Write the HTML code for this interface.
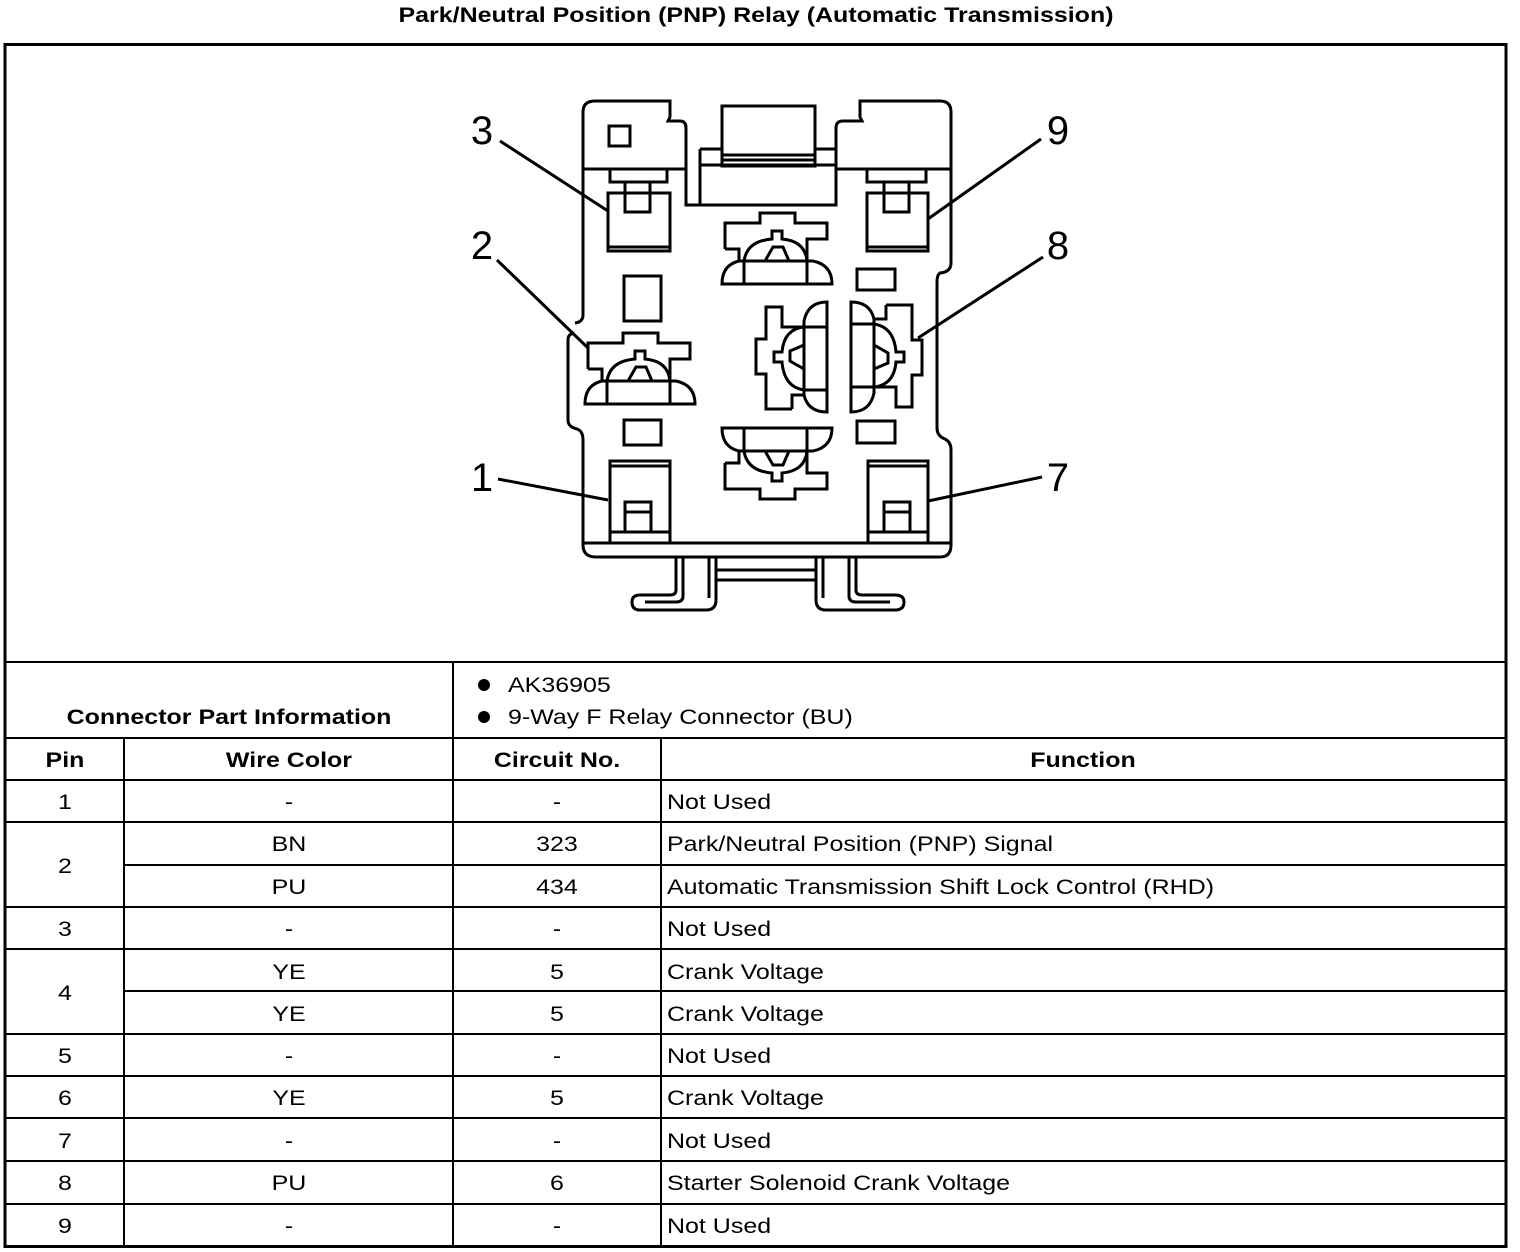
<!DOCTYPE html>
<html><head><meta charset="utf-8"><style>
html,body{margin:0;padding:0;background:#fff;}
svg{display:block}
text{font-family:"Liberation Sans",Arial,sans-serif;fill:#000}
</style></head><body>
<svg width="1520" height="1252" viewBox="0 0 1520 1252" xmlns="http://www.w3.org/2000/svg">
<defs>
<g id="term" fill="none" stroke="#000" stroke-width="3">
  <path d="M-52,-2 V-28 H-17 V-38 H18 V-28 H50 V-12 H30 V10"/>
  <path d="M-52,-2 H-38 V10"/>
  <path d="M-55,33 H55 Q55,14 36,10 H-38 Q-55,14 -55,33 Z"/>
  <path d="M-33,10 V33 M30,10 V33"/>
  <path d="M-33,10 Q-30,-10 -5,-12 V-20 H5 V-12 Q28,-10 30,10"/>
  <path d="M-12,10 L-4,-4 H6 L12,10"/>
</g>
</defs>
<g transform="translate(756,0) scale(1.19,1) translate(-756,0)">
<text x="756" y="22" font-size="21" font-weight="bold" text-anchor="middle">Park/Neutral Position (PNP) Relay (Automatic Transmission)</text>
</g>
<rect x="5" y="44.5" width="1501" height="1202" fill="none" stroke="#000" stroke-width="3"/>
<g stroke="#000" stroke-width="2" fill="none">
<line x1="5" y1="662" x2="1506" y2="662"/>
<line x1="5" y1="738" x2="1506" y2="738"/>
<line x1="453" y1="662" x2="453" y2="1247"/>
<line x1="124" y1="738" x2="124" y2="1247"/>
<line x1="661" y1="738" x2="661" y2="1247"/>
<line x1="5" y1="780" x2="1506" y2="780"/>
<line x1="5" y1="822" x2="1506" y2="822"/>
<line x1="124" y1="865" x2="1506" y2="865"/>
<line x1="5" y1="907" x2="1506" y2="907"/>
<line x1="5" y1="949" x2="1506" y2="949"/>
<line x1="124" y1="991" x2="1506" y2="991"/>
<line x1="5" y1="1034" x2="1506" y2="1034"/>
<line x1="5" y1="1076" x2="1506" y2="1076"/>
<line x1="5" y1="1118" x2="1506" y2="1118"/>
<line x1="5" y1="1161" x2="1506" y2="1161"/>
<line x1="5" y1="1204" x2="1506" y2="1204"/>
</g>
<g font-size="21">
<g transform="translate(229,0) scale(1.19,1) translate(-229,0)">
<text x="229" y="724" font-weight="bold" text-anchor="middle">Connector Part Information</text>
</g>
<circle cx="484" cy="685" r="6"/><circle cx="484" cy="717" r="6"/>
<g transform="translate(508,0) scale(1.19,1) translate(-508,0)">
<text x="508" y="692">AK36905</text>
<text x="508" y="724">9-Way F Relay Connector (BU)</text>
</g>
<g font-weight="bold" text-anchor="middle">
<g transform="translate(65,0) scale(1.19,1) translate(-65,0)"><text x="65" y="767">Pin</text></g>
<g transform="translate(289,0) scale(1.19,1) translate(-289,0)"><text x="289" y="767">Wire Color</text></g>
<g transform="translate(557,0) scale(1.19,1) translate(-557,0)"><text x="557" y="767">Circuit No.</text></g>
<g transform="translate(1083,0) scale(1.19,1) translate(-1083,0)"><text x="1083" y="767">Function</text></g>
</g>
<g text-anchor="middle">
<g transform="translate(65,0) scale(1.19,1) translate(-65,0)">
<text x="65" y="809">1</text><text x="65" y="873">2</text><text x="65" y="936">3</text><text x="65" y="1000">4</text>
<text x="65" y="1063">5</text><text x="65" y="1105">6</text><text x="65" y="1148">7</text><text x="65" y="1190">8</text><text x="65" y="1233">9</text>
</g>
<g transform="translate(289,0) scale(1.19,1) translate(-289,0)">
<text x="289" y="809">-</text><text x="289" y="851">BN</text><text x="289" y="894">PU</text><text x="289" y="936">-</text>
<text x="289" y="979">YE</text><text x="289" y="1021">YE</text><text x="289" y="1063">-</text><text x="289" y="1105">YE</text>
<text x="289" y="1148">-</text><text x="289" y="1190">PU</text><text x="289" y="1233">-</text>
</g>
<g transform="translate(557,0) scale(1.19,1) translate(-557,0)">
<text x="557" y="809">-</text><text x="557" y="851">323</text><text x="557" y="894">434</text><text x="557" y="936">-</text>
<text x="557" y="979">5</text><text x="557" y="1021">5</text><text x="557" y="1063">-</text><text x="557" y="1105">5</text>
<text x="557" y="1148">-</text><text x="557" y="1190">6</text><text x="557" y="1233">-</text>
</g>
</g>
<g transform="translate(667,0) scale(1.19,1) translate(-667,0)">
<text x="667" y="809">Not Used</text>
<text x="667" y="851">Park/Neutral Position (PNP) Signal</text>
<text x="667" y="894">Automatic Transmission Shift Lock Control (RHD)</text>
<text x="667" y="936">Not Used</text>
<text x="667" y="979">Crank Voltage</text>
<text x="667" y="1021">Crank Voltage</text>
<text x="667" y="1063">Not Used</text>
<text x="667" y="1105">Crank Voltage</text>
<text x="667" y="1148">Not Used</text>
<text x="667" y="1190">Starter Solenoid Crank Voltage</text>
<text x="667" y="1233">Not Used</text>
</g>
</g>

<!-- connector drawing -->
<g fill="none" stroke="#000" stroke-width="3">
<path d="M583,315 V112 Q583,101 595,101 H670 V117 L668,121 H680 Q686,121 686,128 V205 H836 V128 Q836,121 843,121 H862 L860,117 V101 H940 Q951,101 951,112 V263 Q951,272 940,273 Q937,275 937,282 V428 Q937,436 945,439 Q951,442 951,450 V545 Q951,557 940,557 H596 Q583,557 583,545 V440 Q583,431 577,429 Q568,427 568,420 V340 Q568,334 574,333"/>
<path d="M583,315 Q583,322 575,323"/>
<line x1="583" y1="169" x2="686" y2="169"/>
<line x1="836" y1="169" x2="951" y2="169"/>
<line x1="583" y1="543" x2="951" y2="543"/>
<rect x="722" y="106" width="93" height="54"/>
<path d="M700,149 H722 V166 H815 V149 H836 M700,149 V205 M722,166 V160 M700,165 H836"/>
<line x1="722" y1="155" x2="815" y2="155"/>
<rect x="609" y="126" width="21" height="20"/>
<path d="M610,170 V182 H667 V170"/><rect x="625" y="182" width="25" height="30"/>
<rect x="608" y="193" width="62" height="58"/><line x1="608" y1="247" x2="670" y2="247"/>
<path d="M867,170 V182 H926 V170"/><rect x="884" y="182" width="25" height="30"/>
<rect x="867" y="193" width="61" height="58"/><line x1="867" y1="247" x2="928" y2="247"/>
<rect x="610" y="461" width="60" height="82"/><line x1="610" y1="466" x2="670" y2="466"/>
<rect x="625" y="502" width="26" height="30"/><path d="M611,532 H669 M625,512 H651"/>
<rect x="868" y="461" width="60" height="82"/><line x1="868" y1="466" x2="928" y2="466"/>
<rect x="884" y="502" width="26" height="30"/><path d="M869,532 H927 M884,512 H910"/>
<rect x="624" y="276" width="37" height="45"/>
<rect x="624" y="420" width="37" height="25"/>
<rect x="857" y="269" width="38" height="21"/>
<rect x="857" y="421" width="38" height="22"/>
<use href="#term" transform="translate(640,371)"/>
<use href="#term" transform="translate(777,251)"/>
<use href="#term" transform="translate(777,461) scale(1,-1)"/>
<use href="#term" transform="translate(794,357) rotate(-90)"/>
<use href="#term" transform="translate(884,357) rotate(90)"/>
<path d="M676,558 V590 Q676,595 670,595 H640 Q632,595 632,602 Q632,610 640,610 H706 Q716,610 716,600 V558"/>
<path d="M683,558 V596 Q683,602 676,602 H645 M709,558 V598"/>
<path d="M856,558 V590 Q856,595 862,595 H895 Q904,595 904,602 Q904,610 895,610 H826 Q816,610 816,600 V558"/>
<path d="M849,558 V596 Q849,602 856,602 H890 M823,558 V598"/>
<line x1="716" y1="580" x2="816" y2="580"/>
<line x1="716" y1="570" x2="816" y2="570"/>
<line x1="500" y1="141" x2="608" y2="211"/>
<line x1="497" y1="260" x2="588" y2="348"/>
<line x1="498" y1="479" x2="608" y2="500"/>
<line x1="1041" y1="139" x2="928" y2="219"/>
<line x1="1043" y1="257" x2="918" y2="338"/>
<line x1="1042" y1="477" x2="928" y2="501"/>
</g>
<g font-size="40" text-anchor="middle">
<text x="482" y="144">3</text>
<text x="482" y="259">2</text>
<text x="482" y="491">1</text>
<text x="1058" y="144">9</text>
<text x="1058" y="259">8</text>
<text x="1058" y="491">7</text>
</g>
</svg>
</body></html>
